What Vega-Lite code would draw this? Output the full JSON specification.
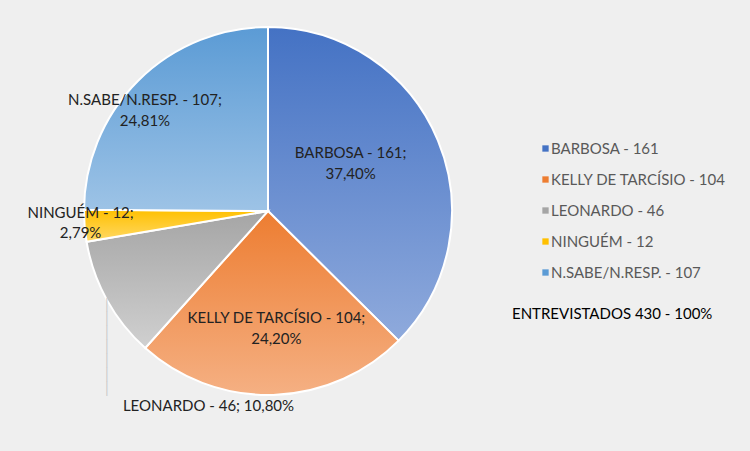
{
  "$schema": "https://vega.github.io/schema/vega-lite/v6.json",
  "description": "Pesquisa: BARBOSA, KELLY DE TARCISIO, LEONARDO, NINGUEM, N.SABE/N.RESP.",
  "width": 536,
  "height": 422,
  "autosize": {"type": "none"},
  "padding": {"left": 0, "top": 0, "right": 214, "bottom": 29},
  "background": "#efefef",
  "data": {
    "values": [
      {"ordem": 1, "candidato": "BARBOSA - 161", "votos": 161, "rotulo": "BARBOSA - 161;\n37,40%"},
      {"ordem": 2, "candidato": "KELLY DE TARCÍSIO - 104", "votos": 104, "rotulo": "KELLY DE TARCÍSIO - 104;\n24,20%"},
      {"ordem": 3, "candidato": "LEONARDO - 46", "votos": 46, "rotulo": "LEONARDO - 46; 10,80%"},
      {"ordem": 4, "candidato": "NINGUÉM - 12", "votos": 12, "rotulo": "NINGUÉM - 12;\n2,79%"},
      {"ordem": 5, "candidato": "N.SABE/N.RESP. - 107", "votos": 107, "rotulo": "N.SABE/N.RESP. - 107;\n24,81%"}
    ]
  },
  "encoding": {
    "theta": {"field": "votos", "type": "quantitative", "stack": true},
    "order": {"field": "ordem", "type": "quantitative"}
  },
  "layer": [
    {
      "mark": {"type": "arc", "outerRadius": 184},
      "encoding": {
        "color": {
          "field": "candidato",
          "type": "nominal",
          "scale": {
            "domain": ["BARBOSA - 161", "KELLY DE TARCÍSIO - 104", "LEONARDO - 46", "NINGUÉM - 12", "N.SABE/N.RESP. - 107"],
            "range": ["#4472c4", "#ed7d31", "#a5a5a5", "#ffc000", "#5b9bd5"]
          },
          "legend": {
            "orient": "none",
            "legendX": 512,
            "legendY": 141,
            "title": "ENTREVISTADOS 430 - 100%",
            "titleOrient": "bottom",
            "titleAnchor": "start",
            "titleFont": "Lato",
            "titleFontSize": 15,
            "titleFontWeight": "normal",
            "titleColor": "#000000",
            "titlePadding": 26,
            "titleLimit": 400,
            "labelFont": "Lato",
            "labelFontSize": 15,
            "labelColor": "#595959",
            "labelLimit": 300,
            "labelOffset": -2,
            "symbolType": "square",
            "symbolSize": 40,
            "symbolOffset": 26,
            "symbolStrokeWidth": 0,
            "rowPadding": 15,
            "padding": 0
          }
        }
      }
    },
    {
      "mark": {"type": "arc", "outerRadius": 184, "stroke": "#ffffff", "strokeWidth": 2},
      "encoding": {
        "color": {
          "condition": [
            {"test": "datum.ordem === 1", "value": {"gradient": "linear", "x1": 0, "y1": 0, "x2": 0, "y2": 1, "stops": [{"offset": 0, "color": "#4472c4"}, {"offset": 1, "color": "#8faadc"}]}},
            {"test": "datum.ordem === 2", "value": {"gradient": "linear", "x1": 0, "y1": 0, "x2": 0, "y2": 1, "stops": [{"offset": 0, "color": "#ed7d31"}, {"offset": 1, "color": "#f5b083"}]}},
            {"test": "datum.ordem === 3", "value": {"gradient": "linear", "x1": 0, "y1": 0, "x2": 0, "y2": 1, "stops": [{"offset": 0, "color": "#a5a5a5"}, {"offset": 1, "color": "#d0d0d0"}]}},
            {"test": "datum.ordem === 4", "value": {"gradient": "linear", "x1": 0, "y1": 0, "x2": 0, "y2": 1, "stops": [{"offset": 0, "color": "#ffc000"}, {"offset": 1, "color": "#ffd966"}]}}
          ],
          "value": {"gradient": "linear", "x1": 0, "y1": 0, "x2": 0, "y2": 1, "stops": [{"offset": 0, "color": "#5b9bd5"}, {"offset": 1, "color": "#9dc3e6"}]}
        }
      }
    },
    {
      "mark": {"type": "text", "font": "Lato", "fontSize": 15, "color": "#222222", "lineBreak": "\n", "lineHeight": 21, "baseline": "middle", "dx": -6, "dy": -21},
      "encoding": {
        "radius": {"value": 96},
        "text": {"condition": {"test": "datum.ordem === 1", "field": "rotulo"}, "value": ""}
      }
    },
    {
      "mark": {"type": "text", "font": "Lato", "fontSize": 15, "color": "#222222", "lineBreak": "\n", "lineHeight": 21, "baseline": "middle", "dx": 5, "dy": -10},
      "encoding": {
        "radius": {"value": 117},
        "text": {"condition": {"test": "datum.ordem === 2", "field": "rotulo"}, "value": ""}
      }
    },
    {
      "mark": {"type": "text", "font": "Lato", "fontSize": 15, "color": "#222222", "lineBreak": "\n", "lineHeight": 20, "baseline": "middle", "dy": -13},
      "encoding": {
        "radius": {"value": 188},
        "text": {"condition": {"test": "datum.ordem === 4", "field": "rotulo"}, "value": ""}
      }
    },
    {
      "mark": {"type": "text", "font": "Lato", "fontSize": 15, "color": "#222222", "lineBreak": "\n", "lineHeight": 21, "baseline": "middle", "dx": -11, "dy": 2},
      "encoding": {
        "radius": {"value": 159},
        "text": {"condition": {"test": "datum.ordem === 5", "field": "rotulo"}, "value": ""}
      }
    },
    {
      "mark": {"type": "text", "font": "DejaVu Sans Mono", "fontSize": 12, "color": "#c8c8c8", "lineBreak": "\n", "lineHeight": 14, "baseline": "top", "align": "center"},
      "encoding": {
        "radius": {"value": 184},
        "text": {"condition": {"test": "datum.ordem === 3", "value": "│\n│\n│\n│\n│\n│\n│"}, "value": ""}
      }
    },
    {
      "mark": {"type": "text", "font": "Lato", "fontSize": 15, "color": "#222222", "baseline": "middle", "align": "left", "dx": 16, "dy": 106},
      "encoding": {
        "radius": {"value": 184},
        "text": {"condition": {"test": "datum.ordem === 3", "field": "rotulo"}, "value": ""}
      }
    }
  ],
  "config": {"view": {"stroke": null}}
}
